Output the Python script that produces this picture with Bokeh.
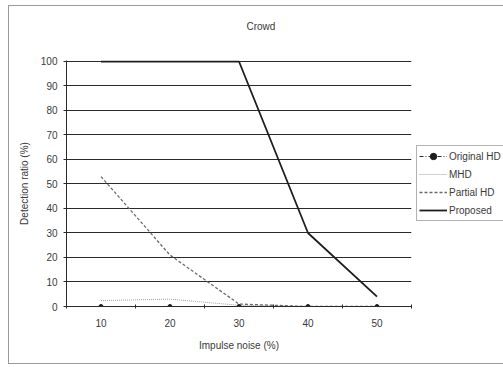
from bokeh.plotting import figure
from bokeh.models import Range1d, FixedTicker, Legend, LegendItem, Title
from bokeh.embed import file_html
from bokeh.resources import INLINE

noise = [10, 20, 30, 40, 50]
original_hd = [0, 0, 0, 0, 0]
mhd = [2.4, 3, 0.5, 0, 0]
partial_hd = [53, 21, 1, 0, 0]
proposed = [100, 100, 100, 30, 4]
y_ticks = list(range(0, 101, 10))
x_bounds = [5, 15, 25, 35, 45, 55]

FONT = "Liberation Sans"
TXT = "#3a3a3a"

p = figure(frame_width=345, frame_height=246, output_backend="svg", toolbar_location=None,
           x_range=Range1d(5, 55), y_range=Range1d(0, 100.4),
           min_border_left=57, min_border_right=86, min_border_top=54, min_border_bottom=57)
p.styles = {"border": "1px solid #9a9a9a", "margin": "5px 0 0 8px"}
p.outline_line_color = None
p.background_fill_color = "white"
p.border_fill_color = "white"

p.title = Title(text="Crowd", align="left", offset=180, vertical_align="top", standoff=0,
                text_font=FONT, text_font_size="10px", text_font_style="normal", text_color=TXT)
p.add_layout(Title(text=" ", text_font_size="10px", standoff=14, text_color="white"), "above")

p.xgrid.visible = False
p.ygrid.ticker = FixedTicker(ticks=y_ticks)
p.ygrid.grid_line_color = "#2a2a2a"
p.ygrid.grid_line_width = 1

xa = p.xaxis[0]
xa.ticker = FixedTicker(ticks=noise, minor_ticks=x_bounds)
xa.major_tick_in = 0
xa.major_tick_out = 0
xa.minor_tick_in = 2
xa.minor_tick_out = 2
xa.minor_tick_line_color = "#2a2a2a"
xa.axis_line_color = "#2a2a2a"
xa.major_label_standoff = 10
xa.major_label_text_font = FONT
xa.major_label_text_font_size = "10px"
xa.major_label_text_color = TXT
xa.axis_label = "Impulse noise (%)"
xa.axis_label_text_font = FONT
xa.axis_label_text_font_size = "10px"
xa.axis_label_text_font_style = "normal"
xa.axis_label_text_color = TXT
xa.axis_label_standoff = 10

ya = p.yaxis[0]
ya.ticker = FixedTicker(ticks=y_ticks)
ya.minor_tick_line_color = None
ya.major_tick_in = 0
ya.major_tick_out = 3
ya.major_tick_line_color = "#2a2a2a"
ya.axis_line_color = "#2a2a2a"
ya.major_label_standoff = 6
ya.major_label_text_font = FONT
ya.major_label_text_font_size = "10px"
ya.major_label_text_color = TXT
ya.axis_label = "Detection ratio (%)"
ya.axis_label_text_font = FONT
ya.axis_label_text_font_size = "10px"
ya.axis_label_text_font_style = "normal"
ya.axis_label_text_color = TXT
ya.axis_label_standoff = 8

r_mhd = p.line(noise, mhd, line_color="#a0a0a0", line_width=1, line_dash="1 1")
r_part = p.line(noise, partial_hd, line_color="#6a6a6a", line_width=1.3, line_dash="3 2")
r_prop = p.line(noise, proposed, line_color="#1e1e1e", line_width=1.8)
r_orig = p.line(noise, original_hd, line_color="#2a2a2a", line_width=1, line_dash="4 2 1 2")
r_orig_m = p.scatter(noise, original_hd, size=4, marker="circle", fill_color="#1e1e1e", line_color="#1e1e1e")

legend = Legend(items=[
    LegendItem(label="Original HD", renderers=[r_orig, r_orig_m]),
    LegendItem(label="MHD", renderers=[r_mhd]),
    LegendItem(label="Partial HD", renderers=[r_part]),
    LegendItem(label="Proposed", renderers=[r_prop]),
], location="center_left", orientation="vertical")
legend.label_text_font = FONT
legend.label_text_font_size = "10px"
legend.label_text_color = TXT
legend.glyph_width = 28
legend.glyph_height = 16
legend.label_height = 16
legend.label_standoff = 2
legend.spacing = 2
legend.padding = 2
legend.margin = 5
legend.border_line_color = "#666666"
legend.background_fill_color = "white"
legend.background_fill_alpha = 1
p.add_layout(legend, "right")

open("out.html", "w").write(file_html(p, INLINE))
